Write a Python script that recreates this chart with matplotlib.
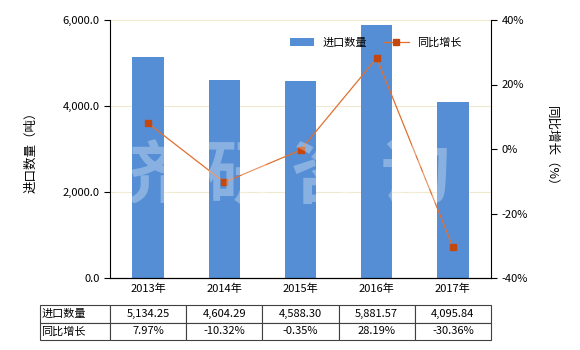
import matplotlib
matplotlib.use("Agg")
import matplotlib.pyplot as plt
from matplotlib.ticker import FuncFormatter

plt.rcParams['font.family'] = ['Noto Sans CJK SC', 'DejaVu Sans']

years = ["2013年", "2014年", "2015年", "2016年", "2017年"]
qty = [5134.25, 4604.29, 4588.30, 5881.57, 4095.84]
growth = [7.97, -10.32, -0.35, 28.19, -30.36]
qty_labels = ["5,134.25", "4,604.29", "4,588.30", "5,881.57", "4,095.84"]
growth_labels = ["7.97%", "-10.32%", "-0.35%", "28.19%", "-30.36%"]

W, H = 580, 350
fig = plt.figure(figsize=(W/100, H/100), dpi=100)
L, R, T, B = 110, 491, 20, 278
ax = fig.add_axes([L/W, 1-B/H, (R-L)/W, (B-T)/H])
ax2 = ax.twinx()

x = list(range(len(years)))
bar_color = "#558ed5"
line_color = "#e07030"
ax.bar(x, qty, width=0.41, color=bar_color, label="进口数量", zorder=2)
ax.set_xlim(-0.5, len(years)-0.5)
ax.set_ylim(0, 6000)
ax.set_yticks([0, 2000, 4000, 6000])
ax.yaxis.set_major_formatter(FuncFormatter(lambda v, p: f"{v:,.1f}"))
ax.grid(axis='y', color="#efe9cf", linewidth=0.8, zorder=0)
ax.set_axisbelow(True)
ax.set_xticks(x)
ax.set_xticklabels(years, fontsize=8)
ax.tick_params(axis='y', labelsize=8, length=4)
ax.tick_params(axis='x', length=0, pad=4)
for s in ['top', 'right']:
    ax.spines[s].set_visible(False)
ax.set_ylabel("进口数量（吨）", fontsize=9, labelpad=18)

ax2.plot(x, growth, color=line_color, linewidth=0.9, marker='s', markersize=5,
         markerfacecolor="#c4480e", markeredgecolor="#c4480e", label="同比增长", zorder=3)
ax2.set_ylim(-40, 40)
ax2.set_yticks([-40, -20, 0, 20, 40])
ax2.yaxis.set_major_formatter(FuncFormatter(lambda v, p: f"{v:.0f}%"))
ax2.tick_params(axis='y', labelsize=8, length=4)
for s in ['top', 'left']:
    ax2.spines[s].set_visible(False)
ax2.set_ylabel("同比增长（%）", fontsize=9, rotation=-90, labelpad=22)

# watermark
for ch, fx in zip("济研咨询", [145, 240, 325, 415]):
    fig.text(fx/W, 1-178/H, ch, fontsize=50, color="white", alpha=0.3,
             ha='center', va='center', fontweight='bold', zorder=10)

h1, l1 = ax.get_legend_handles_labels()
h2, l2 = ax2.get_legend_handles_labels()
ax2.legend(h1 + h2, l1 + l2, loc='upper right', bbox_to_anchor=(0.95, 0.97), ncol=2,
           frameon=False, fontsize=8, handlelength=2.2, columnspacing=1.5)

# table
TL, TT, TB = 40, 305, 340
tax = fig.add_axes([TL/W, 1-TB/H, (R-TL)/W, (TB-TT)/H])
tax.axis('off')
cells = [["进口数量"] + qty_labels, ["同比增长"] + growth_labels]
first = (L - TL) / (R - TL)
rest = (1 - first) / len(years)
tbl = tax.table(cellText=cells, colWidths=[first] + [rest]*len(years),
                bbox=[0, 0, 1, 1], cellLoc='center')
tbl.auto_set_font_size(False)
for (r, c), cell in tbl.get_celld().items():
    cell.set_fontsize(8)
    cell.set_edgecolor("#404040")
    cell.set_linewidth(0.8)
    if c == 0:
        cell.set_text_props(ha='left')
        cell.PAD = 0.02

fig.savefig("out.png", dpi=100)
